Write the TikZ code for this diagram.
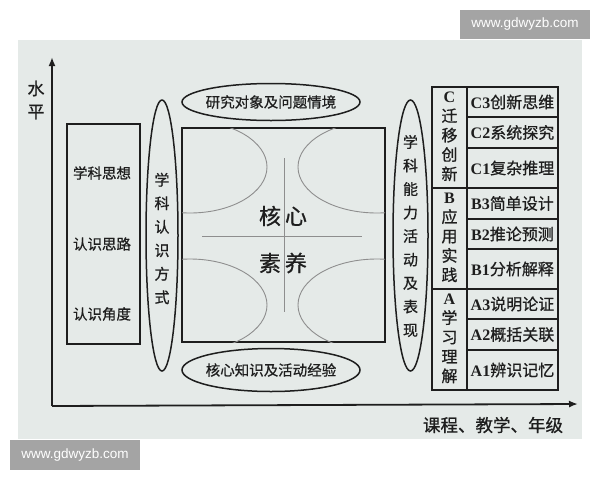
\documentclass[tikz,border=0pt]{standalone}
\usepackage{fontspec}
\setmainfont{Liberation Serif}
\newfontfamily\cjk[FakeBold=0.8]{Noto Sans CJK SC}
\newfontfamily\wmfont{Liberation Sans}
\usetikzlibrary{shapes.geometric,arrows.meta}
\definecolor{bgc}{HTML}{E5EAE8}
\definecolor{ink}{HTML}{1E1E1E}
\definecolor{wm}{HTML}{A4A4A4}
\definecolor{thinc}{HTML}{8E8E8E}
\tikzset{
  lbl/.style={font=\cjk\fontsize{14.5pt}{17pt}\selectfont, text=ink, inner sep=0pt},
  vlbl/.style={font=\cjk\fontsize{15pt}{23.5pt}\selectfont, text=ink, inner sep=0pt, align=center},
  glbl/.style={font=\cjk\fontsize{16pt}{19.4pt}\selectfont, text=ink, inner sep=0pt, align=center},
  cell/.style={font=\cjk\fontsize{16pt}{18pt}\selectfont, text=ink, inner sep=0pt},
  big/.style={font=\cjk\fontsize{22pt}{24pt}\selectfont, text=ink, inner sep=0pt},
  ovalbox/.style={ellipse, draw=ink, line width=1.5pt, inner sep=0pt},
  frame/.style={draw=ink, line width=1.8pt, inner sep=0pt},
  tcell/.style={draw=ink, line width=1.3pt, inner sep=0pt},
  wmbox/.style={fill=wm, text=white, font=\wmfont\fontsize{13.5pt}{15pt}\selectfont, inner sep=0pt},
  axis/.style={draw=ink, line width=1.8pt, -{Latex[length=9pt,width=7pt]}}
}
\newcommand{\Lt}[1]{{\rmfamily\bfseries #1}}
\begin{document}
\begin{tikzpicture}[x=1pt,y=-1pt]
\useasboundingbox (0,0) rectangle (600,480);
\fill[white] (0,0) rectangle (600,480);
\fill[bgc] (18,40) rectangle (582,439);

% watermarks
\node[wmbox, minimum width=130pt, minimum height=29pt] (wm1) at (525,24.5) {www.gdwyzb.com};
\node[wmbox, minimum width=130pt, minimum height=30pt] (wm2) at (75,455) {www.gdwyzb.com};

% axes
\coordinate (O) at (52,406);
\coordinate (ytop) at (52,57);
\coordinate (xend) at (578,404);
\draw[axis] (O) -- (ytop);
\draw[axis] (O) -- (xend);
\node[font=\cjk\fontsize{17pt}{23pt}\selectfont, text=ink, inner sep=0pt, align=center] (ylab) at (36,100) {水\\平};
\node[font=\cjk\fontsize{17.5pt}{20pt}\selectfont, text=ink, inner sep=0pt] (xlab) at (493,425) {课程、教学、年级};

% left box
\node[frame, minimum width=73pt, minimum height=220pt] (lbox) at (103.5,234) {};
\node[lbl] (l1) at (102,173) {学科思想};
\node[lbl] (l2) at (102,244) {认识思路};
\node[lbl] (l3) at (102,314) {认识角度};

% left tall ellipse
\node[ovalbox, minimum width=32pt, minimum height=271pt] (eL) at (162,235.5) {};
\node[vlbl] (eLt) at (162,238.5) {学\\科\\认\\识\\方\\式};

% top and bottom ellipses
\node[ovalbox, minimum width=178pt, minimum height=37pt] (eT) at (271,102) {};
\node[lbl] (eTt) at (eT.center) {研究对象及问题情境};
\node[ovalbox, minimum width=178pt, minimum height=43pt] (eB) at (271,370) {};
\node[lbl] (eBt) at (eB.center) {核心知识及活动经验};

% central square
\node[frame, minimum width=203pt, minimum height=214pt] (sq) at (283.5,235) {};
\begin{scope}
\clip (182,128) rectangle (385,342);
\draw[thinc, line width=0.9pt] (190,167) ellipse [x radius=77pt, y radius=46pt];
\draw[thinc, line width=0.9pt] (377,167) ellipse [x radius=79pt, y radius=46pt];
\draw[thinc, line width=0.9pt] (190,305) ellipse [x radius=77pt, y radius=46pt];
\draw[thinc, line width=0.9pt] (377,305) ellipse [x radius=79pt, y radius=46pt];
\end{scope}
\coordinate (hl) at (202,236);
\coordinate (hr) at (362,236);
\coordinate (vt) at (284,158);
\coordinate (vb) at (284,312);
\draw[thinc, line width=1pt] (hl) -- (hr);
\draw[thinc, line width=1pt] (vt) -- (vb);
\node[big] (k1) at (283,216) {核\hspace{4pt}心};
\node[big] (k2) at (283,263) {素\hspace{4pt}养};

% right tall ellipse
\node[ovalbox, minimum width=35pt, minimum height=271pt] (eR) at (410.5,235.5) {};
\node[vlbl] (eRt) at (410.5,236) {学\\科\\能\\力\\活\\动\\及\\表\\现};

% right table: group column
\node[tcell, minimum width=35pt, minimum height=101pt] (gC) at (449.5,137.5) {};
\node[tcell, minimum width=35pt, minimum height=101pt] (gB) at (449.5,238.5) {};
\node[tcell, minimum width=35pt, minimum height=101pt] (gA) at (449.5,339.5) {};
\node[glbl] (gCt) at (449.5,136.5) {\Lt{C}\\迁\\移\\创\\新};
\node[glbl] (gBt) at (449.5,237.5) {\Lt{B}\\应\\用\\实\\践};
\node[glbl] (gAt) at (449.5,338.5) {\Lt{A}\\学\\习\\理\\解};

% right table: level cells
\node[tcell, minimum width=91pt, minimum height=30pt] (c3) at (512.5,102) {};
\node[tcell, minimum width=91pt, minimum height=31pt] (c2) at (512.5,132.5) {};
\node[tcell, minimum width=91pt, minimum height=40pt] (c1) at (512.5,168) {};
\node[tcell, minimum width=91pt, minimum height=31pt] (b3) at (512.5,203.5) {};
\node[tcell, minimum width=91pt, minimum height=30pt] (b2) at (512.5,234) {};
\node[tcell, minimum width=91pt, minimum height=40pt] (b1) at (512.5,269) {};
\node[tcell, minimum width=91pt, minimum height=30pt] (a3) at (512.5,304) {};
\node[tcell, minimum width=91pt, minimum height=31pt] (a2) at (512.5,334.5) {};
\node[tcell, minimum width=91pt, minimum height=40pt] (a1) at (512.5,370) {};
\node[cell] at (c3.center) {\Lt{C3}创新思维};
\node[cell] at (c2.center) {\Lt{C2}系统探究};
\node[cell] at (c1.center) {\Lt{C1}复杂推理};
\node[cell] at (b3.center) {\Lt{B3}简单设计};
\node[cell] at (b2.center) {\Lt{B2}推论预测};
\node[cell] at (b1.center) {\Lt{B1}分析解释};
\node[cell] at (a3.center) {\Lt{A3}说明论证};
\node[cell] at (a2.center) {\Lt{A2}概括关联};
\node[cell] at (a1.center) {\Lt{A1}辨识记忆};
\end{tikzpicture}
\end{document}
